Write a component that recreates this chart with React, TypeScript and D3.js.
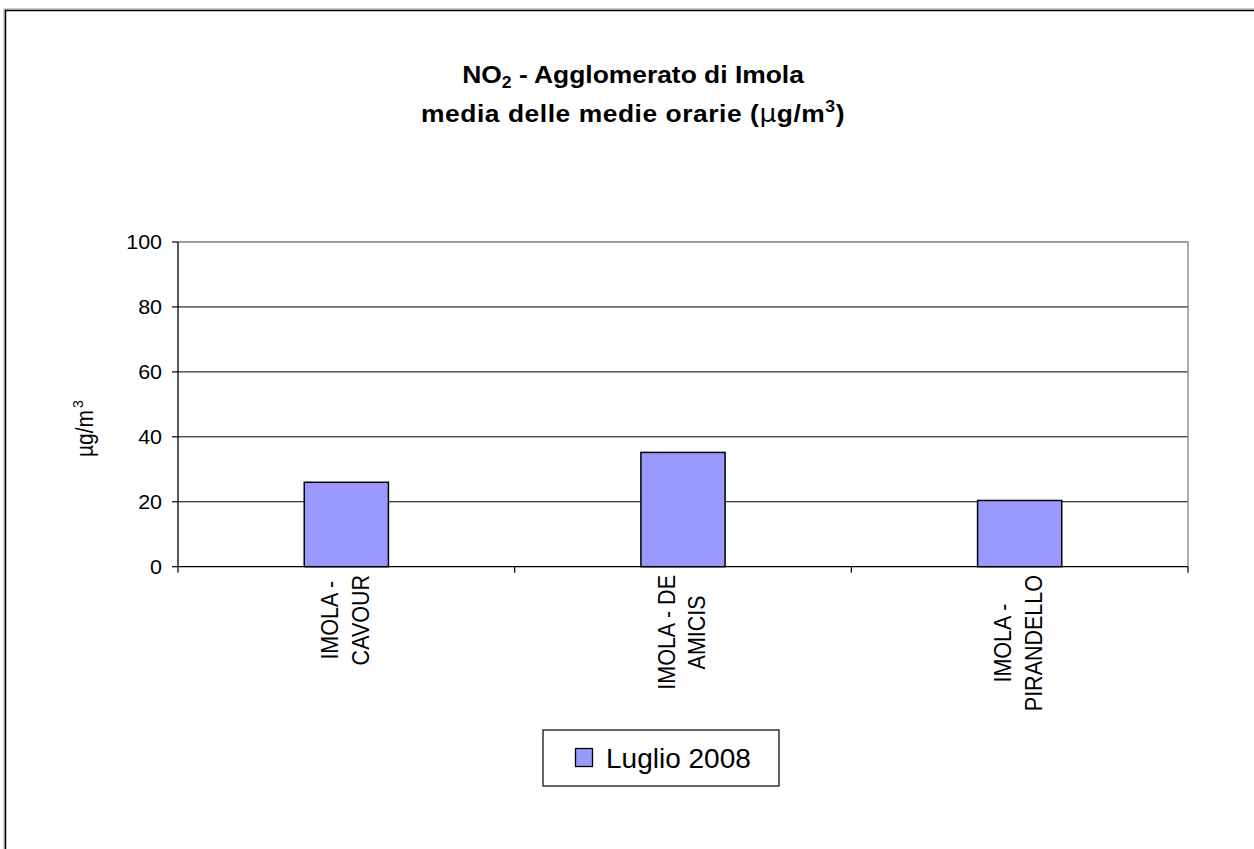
import React, { useEffect, useRef } from "react";
import * as d3 from "d3";

const categories: string[][] = [
  ["IMOLA -", "CAVOUR"],
  ["IMOLA - DE", "AMICIS"],
  ["IMOLA -", "PIRANDELLO"],
];
const values: number[] = [26.0, 35.2, 20.4];
const seriesName = "Luglio 2008";
const yTicks: number[] = [0, 20, 40, 60, 80, 100];
const yTitle = "µg/m";
const titleLine1 = ["NO", "2", " - Agglomerato di Imola"];
const titleLine2 = ["media delle medie orarie (", "µ", "g/m", "3", ")"];

const W = 1254;
const H = 849;
const plot = { left: 178, right: 1188, top: 242, bottom: 566.7 };
const SX = 1.1;
const FONT = "'Liberation Sans', Arial, Helvetica, sans-serif";

export default function App() {
  const ref = useRef<SVGSVGElement | null>(null);

  useEffect(() => {
    const svg = d3.select(ref.current);
    svg.selectAll("*").remove();

    // outer chart border
    svg.append("rect").attr("x", 4).attr("y", 9).attr("width", 1300).attr("height", 900)
      .attr("fill", "none").attr("stroke", "#999").attr("stroke-width", 1);
    svg.append("rect").attr("x", 5.5).attr("y", 10.5).attr("width", 1300).attr("height", 900)
      .attr("fill", "#fff").attr("stroke", "#000").attr("stroke-width", 1.5);

    const x = d3.scaleBand<number>()
      .domain(categories.map((_, i) => i))
      .range([plot.left, plot.right])
      .paddingInner(0.75).paddingOuter(0.375);
    const y = d3.scaleLinear().domain([0, 100]).range([plot.bottom, plot.top]);

    const g = svg.append("g");

    // gridlines
    g.selectAll("line.grid").data(yTicks.filter((t) => t > 0 && t < 100)).enter()
      .append("line").attr("x1", plot.left).attr("x2", plot.right)
      .attr("y1", (d) => y(d)).attr("y2", (d) => y(d))
      .attr("stroke", "#000").attr("stroke-width", 1);
    // plot border top/right grey
    g.append("path")
      .attr("d", `M${plot.left},${y(100)}H${plot.right}V${plot.bottom}`)
      .attr("fill", "none").attr("stroke", "#808080").attr("stroke-width", 1.3);

    // bars
    g.selectAll("rect.bar").data(values).enter().append("rect")
      .attr("x", (_, i) => x(i)!).attr("width", x.bandwidth())
      .attr("y", (d) => y(d)).attr("height", (d) => plot.bottom - y(d))
      .attr("fill", "#9999FF").attr("stroke", "#000").attr("stroke-width", 1.5);

    // axes lines
    g.append("line").attr("x1", plot.left).attr("x2", plot.left).attr("y1", plot.top).attr("y2", plot.bottom)
      .attr("stroke", "#000").attr("stroke-width", 1.3);
    g.append("line").attr("x1", plot.left).attr("x2", plot.right).attr("y1", plot.bottom).attr("y2", plot.bottom)
      .attr("stroke", "#000").attr("stroke-width", 1.3);

    // y ticks
    g.selectAll("line.yt").data(yTicks).enter().append("line")
      .attr("x1", plot.left - 6).attr("x2", plot.left).attr("y1", (d) => y(d)).attr("y2", (d) => y(d))
      .attr("stroke", "#000").attr("stroke-width", 1.2);
    g.selectAll("text.yl").data(yTicks).enter().append("text")
      .attr("transform", (d) => `translate(${plot.left - 16},${y(d) + 7}) scale(${SX},1)`)
      .attr("text-anchor", "end").attr("font-family", FONT).attr("font-size", 19.5)
      .attr("fill", "#000").text((d) => String(d));

    // x ticks at category boundaries
    const step = (plot.right - plot.left) / categories.length;
    const bounds = d3.range(categories.length + 1).map((i) => plot.left + i * step);
    g.selectAll("line.xt").data(bounds).enter().append("line")
      .attr("x1", (d) => d).attr("x2", (d) => d).attr("y1", plot.bottom).attr("y2", plot.bottom + 6)
      .attr("stroke", "#000").attr("stroke-width", 1.2);

    // category labels (rotated, centered lines)
    const labelTop = 575;
    const lineGap = 30.7;
    categories.forEach((lines, i) => {
      const cx = x(i)! + x.bandwidth() / 2;
      const tmp = lines.map((l) =>
        g.append("text").attr("font-family", FONT).attr("font-size", 21.5)
          .attr("text-anchor", "middle").attr("fill", "#000").text(l)
      );
      const maxW = Math.max(...tmp.map((t) => (t.node() as SVGTextElement).getComputedTextLength()));
      const cy = labelTop + maxW / 2;
      tmp.forEach((t, j) => {
        const bx = cx + (j - (lines.length - 1) / 2) * lineGap + 7;
        t.attr("transform", `translate(${bx},${cy}) scale(${SX},1) rotate(-90)`);
      });
    });

    // y axis title
    const yt = g.append("text")
      .attr("transform", `translate(93,457) scale(${SX},1) rotate(-90)`)
      .attr("font-family", FONT).attr("font-size", 21).attr("fill", "#000");
    yt.append("tspan").text(yTitle);
    yt.append("tspan").attr("font-size", 14).attr("dx", 2).attr("dy", -9).text("3");

    // title
    const cxTitle = 633;
    const t1 = g.append("text").attr("transform", `translate(${cxTitle},83) scale(${SX},1)`)
      .attr("text-anchor", "middle").attr("font-family", FONT).attr("font-weight", "bold")
      .attr("font-size", 24).attr("fill", "#000");
    t1.append("tspan").text(titleLine1[0]);
    t1.append("tspan").attr("font-size", 16).attr("dy", 5).text(titleLine1[1]);
    t1.append("tspan").attr("dy", -5).text(titleLine1[2]);
    const t2 = g.append("text").attr("transform", `translate(${cxTitle},121.5) scale(${SX},1)`)
      .attr("text-anchor", "middle").attr("font-family", FONT).attr("font-weight", "bold")
      .attr("font-size", 24).attr("letter-spacing", 0.5).attr("fill", "#000");
    t2.append("tspan").text(titleLine2[0]);
    t2.append("tspan").attr("font-family", "'DejaVu Sans', sans-serif").attr("font-weight", "normal").text(titleLine2[1]);
    t2.append("tspan").text(titleLine2[2]);
    t2.append("tspan").attr("font-size", 16).attr("dy", -10).text(titleLine2[3]);
    t2.append("tspan").attr("dy", 10).text(titleLine2[4]);

    // legend
    const lg = g.append("g");
    lg.append("rect").attr("x", 543).attr("y", 730).attr("width", 236).attr("height", 56)
      .attr("fill", "#fff").attr("stroke", "#000").attr("stroke-width", 1.2);
    lg.append("rect").attr("x", 575.5).attr("y", 748.5).attr("width", 17).attr("height", 18)
      .attr("fill", "#9999FF").attr("stroke", "#000").attr("stroke-width", 1.3);
    lg.append("text").attr("x", 606).attr("y", 768)
      .attr("font-family", FONT).attr("font-size", 28).attr("fill", "#000").text(seriesName);
  }, []);

  return (
    <svg ref={ref} width={W} height={H}
      style={{ position: "absolute", left: 0, top: 0, background: "#fff" }} />
  );
}
